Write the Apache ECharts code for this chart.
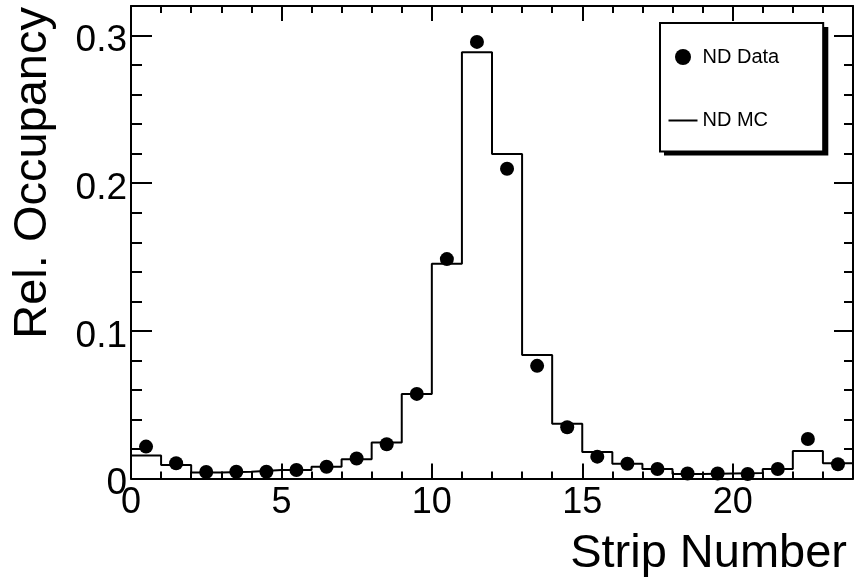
<!DOCTYPE html>
<html>
<head>
<meta charset="utf-8">
<script src="https://cdn.jsdelivr.net/npm/echarts@6/dist/echarts.min.js"></script>
<style>
html,body{margin:0;padding:0;background:#fff;}
#chart{width:857px;height:584px;}
</style>
</head>
<body>
<div id="chart"></div>
<script>
// Bin edges of the strip histogram
const binEdges = [0,1,2,3,4,5,6,7,8,9,10,11,12,13,14,15,16,17,18,19,20,21,22,23,24];
// Bin centres where the data points sit
const stripCenters = [0.5,1.5,2.5,3.5,4.5,5.5,6.5,7.5,8.5,9.5,10.5,11.5,12.5,13.5,14.5,15.5,16.5,17.5,18.5,19.5,20.5,21.5,22.5,23.5];
// ND MC relative occupancy per strip (histogram)
const mcValues = [0.0155,0.0092,0.0040,0.0046,0.0058,0.0058,0.0079,0.0130,0.0243,0.0573,0.1454,0.2887,0.2198,0.0837,0.0370,0.0180,0.0100,0.0064,0.0030,0.0034,0.0038,0.0064,0.0186,0.0103];
// ND Data relative occupancy per strip (points)
const dataValues = [0.0216,0.0103,0.0044,0.0046,0.0046,0.0058,0.0080,0.0135,0.0232,0.0573,0.1486,0.2957,0.2098,0.0763,0.0347,0.0148,0.0100,0.0064,0.0034,0.0034,0.0030,0.0064,0.0268,0.0097];
// Tick labels
const xTickLabels = ['0','5','10','15','20'];
const yTickLabels = ['0','0.1','0.2','0.3'];

const FONT = 'Liberation Sans, Arial, Helvetica, sans-serif';
const chart = echarts.init(document.getElementById('chart'), null, {renderer:'canvas'});

const mcSteps = binEdges.map((e, i) => [e, mcValues[Math.min(i, mcValues.length - 1)]]);
const dataPts = stripCenters.map((c, i) => [c, dataValues[i]]);

function xFmt(v){ const s = String(Math.round(v)); return (Math.abs(v - Math.round(v)) < 1e-9 && xTickLabels.indexOf(s) >= 0) ? s : ''; }
function yFmt(v){
  for (const t of yTickLabels) { if (Math.abs(parseFloat(t) - v) < 1e-9) return t; }
  return '';
}
const blk = {color:'#000', width:2};
function xAx(pos, interval, len, showLine, showLabel){
  return {type:'value', min:0, max:24, interval:interval, position:pos, gridIndex:0,
    axisLine:{show:showLine, onZero:false, lineStyle:blk},
    axisTick:{show:true, inside:true, length:len, lineStyle:blk},
    axisLabel:{show:showLabel, fontSize:36, fontFamily:FONT, color:'#000', margin:7, formatter:xFmt, showMinLabel:true, showMaxLabel:true},
    splitLine:{show:false}};
}
function yAx(pos, interval, len, showLine, showLabel){
  return {type:'value', min:0, max:0.32, interval:interval, position:pos, gridIndex:0,
    axisLine:{show:showLine, onZero:false, lineStyle:blk},
    axisTick:{show:true, inside:true, length:len, lineStyle:blk},
    axisLabel:{show:showLabel, fontSize:37, fontFamily:FONT, color:'#000', margin:4, verticalAlign:'top', lineHeight:11, formatter:yFmt, showMinLabel:true, showMaxLabel:true},
    splitLine:{show:false}};
}

const option = {
  animation:false,
  backgroundColor:'#fff',
  grid:{left:131, right:4, top:6, bottom:105.5, containLabel:false, show:false},
  xAxis:[xAx('bottom',5,15,true,true), xAx('bottom',1,7,false,false), xAx('top',5,15,true,false), xAx('top',1,7,false,false)],
  yAxis:[yAx('left',0.1,21,true,true), yAx('left',0.02,11,false,false), yAx('right',0.1,19,true,false), yAx('right',0.02,9,false,false)],
  legend:{
    data:[{name:'ND Data', icon:'circle'},{name:'ND MC', icon:'path://M0,0 H29 V2 H0 Z'}],
    orient:'vertical', left:660, top:23,
    itemWidth:29, itemHeight:16, itemGap:43.5,
    padding:[24,44,21,8.5],
    backgroundColor:'#fff', borderColor:'#000', borderWidth:2, borderRadius:0,
    selectedMode:false, z:10,
    textStyle:{fontSize:20, fontFamily:FONT, color:'#000'}
  },
  series:[
    {type:'line', name:'ND MC', data:mcSteps, step:'end', symbol:'none', showSymbol:false,
     xAxisIndex:0, yAxisIndex:0, z:2, lineStyle:{color:'#000', width:2}, itemStyle:{color:'#000'}},
    {type:'scatter', name:'ND Data', data:dataPts, symbol:'circle', symbolSize:14,
     xAxisIndex:0, yAxisIndex:0, z:3, itemStyle:{color:'#000', opacity:1}}
  ],
  graphic:[
    {type:'rect', z:5, shape:{x:664, y:27, width:164.3, height:128.4}, style:{fill:'#000'}},
    {type:'text', x:32.7, y:7, rotation:Math.PI/2,
     style:{text:'Rel. Occupancy', font:'47px ' + FONT, fill:'#000', align:'right', verticalAlign:'middle'}},
    {type:'text', x:847, y:553.7,
     style:{text:'Strip Number', font:'47px ' + FONT, fill:'#000', align:'right', verticalAlign:'middle'}}
  ]
};
chart.setOption(option);
</script>
</body>
</html>
